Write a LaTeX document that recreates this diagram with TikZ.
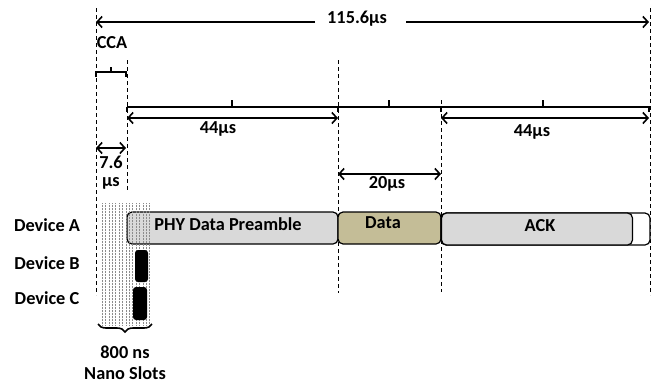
\documentclass[tikz,border=0pt]{standalone}
\usepackage{fontspec}
\setmainfont{Carlito}
\usetikzlibrary{arrows.meta,decorations.pathreplacing}
\definecolor{boxgray}{HTML}{D9D9D9}
\definecolor{khaki}{HTML}{C4BD97}
\begin{document}
\begin{tikzpicture}[x=1pt,y=-1pt,
  lbl/.style={font=\fontsize{18.3}{19}\selectfont\bfseries, inner sep=0pt},
  dash line/.style={line width=1pt, dash pattern=on 4pt off 3pt},
  arr/.style={line width=1.6pt, -{Straight Barb[length=5pt,width=11pt]}},
  darr/.style={line width=1.6pt, {Straight Barb[length=5pt,width=11pt]}-{Straight Barb[length=5pt,width=11pt]}},
  tl/.style={line width=1.6pt},
  pkt/.style={draw, line width=1.2pt, rounded corners=5pt, inner sep=0pt, minimum height=32pt},
  blk/.style={fill=black, rounded corners=3pt, inner sep=0pt},
  hatch/.style={gray!90, line width=0.5pt, dash pattern=on 0.6pt off 0.9pt}]
\useasboundingbox (0,0) rectangle (654,386);
% dashed verticals
\coordinate (d0a) at (96,8);   \coordinate (d0b) at (96,295);
\coordinate (d1a) at (127,60); \coordinate (d1b) at (127,190);
\coordinate (d2a) at (338,60); \coordinate (d2b) at (338,293);
\coordinate (d3a) at (441,100);\coordinate (d3b) at (441,292);
\coordinate (d4a) at (650,8);  \coordinate (d4b) at (650,295);
\foreach \p in {0,...,4} \draw[dash line] (d\p a) -- (d\p b);
% total
\node[lbl] (tot) at (357,19) {115.6μs};
\coordinate (ta) at (315,22); \coordinate (tb) at (406,22);
\coordinate (t0) at (96,22);  \coordinate (t5) at (649,22);
\draw[arr] (ta) -- (t0);
\draw[arr] (tb) -- (t5);
% CCA
\node[lbl] (cca) at (112,43) {CCA};
\draw[line width=1.4pt] (96,77) -- (96,72) -- (126,72) -- (126,77);
\draw[line width=1.4pt] (111,72) -- (111,67);
% timeline
\draw[tl] (127,107) -- (650,107);
\foreach \x in {232,389,543} \draw[line width=1.4pt] (\x,107) -- (\x,100);
\foreach \x in {127,338,441,649} \draw[line width=1.4pt] (\x,107) -- (\x,112);
% 44us arrows
\coordinate (a1l) at (127,118); \coordinate (a1r) at (338,118);
\coordinate (a2l) at (441,118); \coordinate (a2r) at (649,118);
\draw[darr] (a1l) -- (a1r);
\draw[darr] (a2l) -- (a2r);
\node[lbl] (l44a) at (218,129) {44μs};
\node[lbl] (l44b) at (532,132) {44μs};
% 7.6 us
\coordinate (c1) at (96,148); \coordinate (c2) at (126,148);
\draw[darr] (c1) -- (c2);
\node[lbl] (l76) at (111,162) {7.6};
\node[lbl] (lmu) at (111,183) {μs};
% 20 us
\coordinate (e1) at (338,174); \coordinate (e2) at (441,174);
\draw[darr] (e1) -- (e2);
\node[lbl] (l20) at (387,184) {20μs};
% devices
\node[lbl] (da) at (47,225) {Device A};
\node[lbl] (db) at (47,263) {Device B};
\node[lbl] (dc) at (47,298) {Device C};
% packets
\node[pkt, fill=boxgray, minimum width=211pt] (phy) at (232.5,228) {};
\node[lbl] (phyt) at (228,224) {PHY Data Preamble};
\node[pkt, fill=khaki, minimum width=103pt] (data) at (389.5,228) {};
\node[lbl] (datat) at (383,223) {Data};
\node[pkt, fill=white, minimum width=209pt] (ackw) at (545.5,229) {};
\node[pkt, fill=boxgray, minimum width=191pt] (ack) at (537,229) {};
\node[lbl] (ackt) at (540,226) {ACK};
% nano slots hatch
\foreach \i in {0,...,14} \draw[hatch] (102+\i*3.4,203) -- (102+\i*3.4,325);
% black boxes
\node[blk, minimum width=13pt, minimum height=32pt] (bb) at (141.5,266) {};
\node[blk, minimum width=14pt, minimum height=33pt] (bc) at (140,303.5) {};
% brace
\coordinate (br1) at (98,324); \coordinate (br2) at (152,324);
\draw[line width=1.6pt, decorate, decoration={brace, amplitude=8pt, mirror}] (br1) -- (br2);
\node[lbl] (l800) at (125,352) {800 ns};
\node[lbl] (lns) at (125,373) {Nano Slots};
\end{tikzpicture}
\end{document}
